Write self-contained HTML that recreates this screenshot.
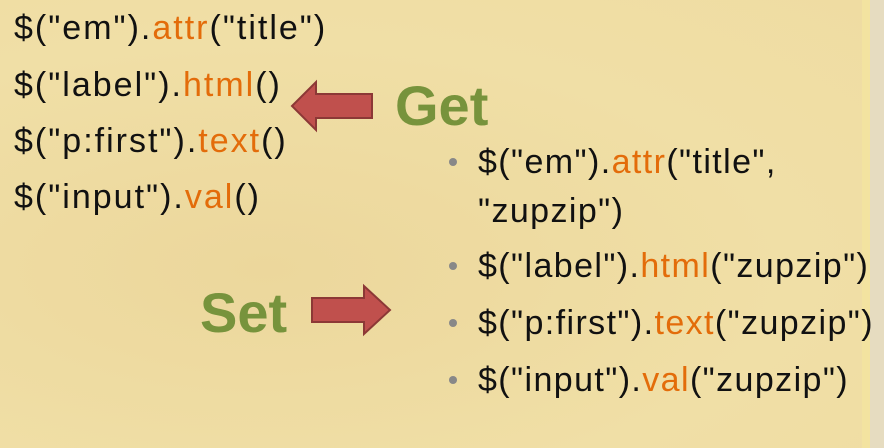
<!DOCTYPE html>
<html><head><style>
body{margin:0;width:884px;height:448px;overflow:hidden;background:#efdda3;position:relative;font-family:"Liberation Sans",sans-serif}
.bg{position:absolute;inset:0;background:radial-gradient(ellipse at 30% 60%,#ecd79c 0%,#f0dfa6 60%,#efdca2 100%)}
.strip{position:absolute;left:862px;top:0;width:8px;height:448px;background:#f3e3a0}
.strip2{position:absolute;left:870px;top:0;width:14px;height:448px;background:#e6dcc0}
.t{position:absolute;font-size:34px;color:#111;white-space:nowrap;letter-spacing:2px}
.r{letter-spacing:1.4px}
.o{color:#e36c0a}
.g{position:absolute;font-weight:bold;font-size:56px;color:#77933c}
.b{position:absolute;width:8px;height:8px;border-radius:50%;background:#888}
</style></head><body>
<div class="bg"></div><div class="strip"></div><div class="strip2"></div>
<div class="t" style="left:14px;top:9px">$("em").<span class="o">attr</span>("title")</div>
<div class="t" style="left:14px;top:66px">$("label").<span class="o">html</span>()</div>
<div class="t" style="left:14px;top:122px">$("p:first").<span class="o">text</span>()</div>
<div class="t" style="left:14px;top:178px">$("input").<span class="o">val</span>()</div>
<div class="g" style="left:395px;top:73px">Get</div>
<div class="g" style="left:200px;top:280px">Set</div>
<svg style="position:absolute;left:0;top:0" width="884" height="448">
<polygon points="292,106 316,82 316,94 372,94 372,118 316,118 316,130" fill="#c0504d" stroke="#8c3836" stroke-width="2"/>
<polygon points="312,298 364,298 364,286 390,310 364,334 364,322 312,322" fill="#c0504d" stroke="#8c3836" stroke-width="2"/>
</svg>
<div class="b" style="left:449px;top:158px"></div>
<div class="b" style="left:449px;top:262px"></div>
<div class="b" style="left:449px;top:319px"></div>
<div class="b" style="left:449px;top:376px"></div>
<div class="t r" style="left:478px;top:143px">$("em").<span class="o">attr</span>("title",</div>
<div class="t r" style="left:478px;top:192px">"zupzip")</div>
<div class="t r" style="left:478px;top:247px">$("label").<span class="o">html</span>("zupzip")</div>
<div class="t r" style="left:478px;top:304px">$("p:first").<span class="o">text</span>("zupzip")</div>
<div class="t r" style="left:478px;top:361px">$("input").<span class="o">val</span>("zupzip")</div>
</body></html>
